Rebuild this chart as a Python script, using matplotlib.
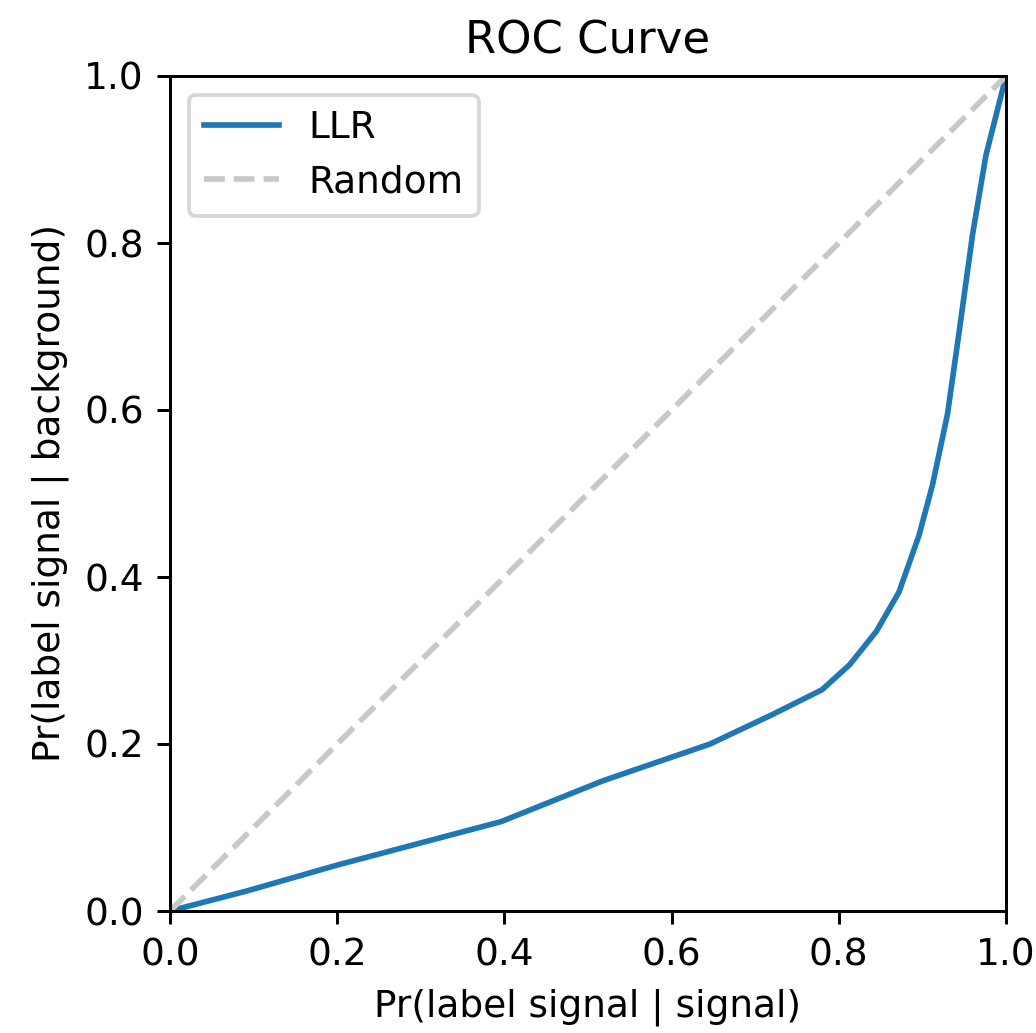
import matplotlib
matplotlib.use('Agg')
import matplotlib.pyplot as plt

# ROC curve points
sig_eff = [0.0, 0.092, 0.2, 0.396, 0.518, 0.646, 0.72, 0.78, 0.813, 0.845,
           0.872, 0.896, 0.912, 0.93, 0.944, 0.96, 0.976, 1.0]
bkg_eff = [0.0, 0.024, 0.055, 0.107, 0.156, 0.2, 0.235, 0.265, 0.295, 0.335,
           0.382, 0.45, 0.51, 0.595, 0.694, 0.81, 0.905, 1.0]
random_line = [0.0, 1.0]

dpi = 270
fig = plt.figure(figsize=(1036 / dpi, 1033 / dpi), dpi=dpi)
ax = fig.add_axes([170 / 1036, 1 - 911 / 1033, 836 / 1036, 835 / 1033])

ax.plot(sig_eff, bkg_eff, color='C0', label='LLR')
ax.plot(random_line, random_line, '--', color='#c8c8c8', label='Random')

ax.set_xlim(0, 1)
ax.set_ylim(0, 1)
ax.set_xlabel('Pr(label signal | signal)')
ax.set_ylabel('Pr(label signal | background)')
ax.set_title('ROC Curve')
ax.legend(loc='upper left')

fig.savefig('out.png', dpi=dpi)
